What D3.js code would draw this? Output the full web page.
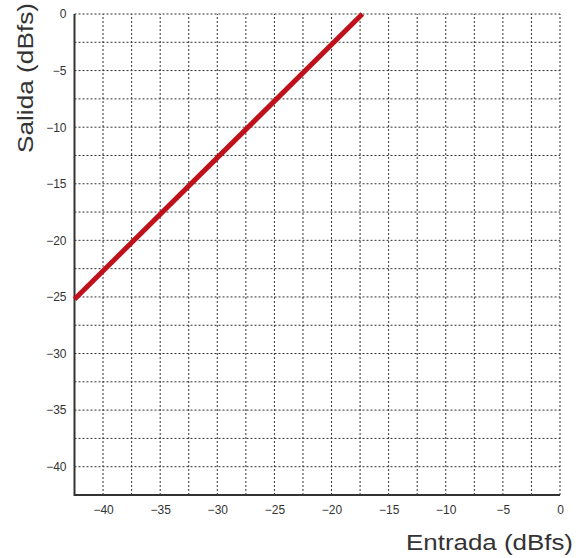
<!DOCTYPE html>
<html>
<head>
<meta charset="utf-8">
<script src="https://cdn.jsdelivr.net/npm/d3@7"></script>
<style>
  html, body { margin: 0; padding: 0; background: #fff; }
  svg { display: block; }
</style>
</head>
<body>
<svg id="chart" width="576" height="558"></svg>
<script>
const xDomain = [-42.5, 0];
const yDomain = [-42.5, 0];
const xTicks = [-40, -35, -30, -25, -20, -15, -10, -5, 0];
const yTicks = [0, -5, -10, -15, -20, -25, -30, -35, -40];
const xGrid = [-40, -37.5, -35, -32.5, -30, -27.5, -25, -22.5, -20, -17.5, -15, -12.5, -10, -7.5, -5, -2.5, 0];
const yGrid = [-40, -37.5, -35, -32.5, -30, -27.5, -25, -22.5, -20, -17.5, -15, -12.5, -10, -7.5, -5, -2.5, 0];
const lineX = [-42.5, -17.3];
const lineY = [-25.2, 0];
const xTitle = "Entrada (dBfs)";
const yTitle = "Salida (dBfs)";

const svg = d3.select("#chart");
const x = d3.scaleLinear().domain(xDomain).range([74.5, 560]);
const y = d3.scaleLinear().domain(yDomain).range([495, 14]);

// grid
const g = svg.append("g");
g.selectAll("line.v").data(xGrid).enter().append("line")
  .attr("x1", d => x(d)).attr("x2", d => x(d))
  .attr("y1", y(yDomain[0])).attr("y2", y(yDomain[1]))
  .attr("stroke", "#333").attr("stroke-width", 1).attr("stroke-dasharray", "2,2");
g.selectAll("line.h").data(yGrid).enter().append("line")
  .attr("y1", d => y(d)).attr("y2", d => y(d))
  .attr("x1", x(xDomain[0])).attr("x2", x(xDomain[1]))
  .attr("stroke", "#333").attr("stroke-width", 1).attr("stroke-dasharray", "2,2");

// axes
const xAxis = d3.axisBottom(x).tickValues(xTicks).tickSize(0).tickPadding(10).tickFormat(d3.format("d"));
const yAxis = d3.axisLeft(y).tickValues(yTicks).tickSize(0).tickPadding(8).tickFormat(d3.format("d"));
const gx = svg.append("g").attr("transform", `translate(0,${y(yDomain[0])})`).call(xAxis);
const gy = svg.append("g").attr("transform", `translate(${x(xDomain[0])},0)`).call(yAxis);
[gx, gy].forEach(a => {
  a.select(".domain").remove();
  a.selectAll("text").attr("font-family", "Liberation Sans, Arial, sans-serif")
    .attr("font-size", 12).attr("fill", "#333");
});

svg.append("line")
  .attr("x1", x(xDomain[0])).attr("x2", x(xDomain[1]))
  .attr("y1", y(yDomain[0])).attr("y2", y(yDomain[0]))
  .attr("stroke", "#333").attr("stroke-width", 2);
svg.append("line")
  .attr("x1", x(xDomain[0])).attr("x2", x(xDomain[0]))
  .attr("y1", y(yDomain[0]) + 1).attr("y2", y(yDomain[1]))
  .attr("stroke", "#333").attr("stroke-width", 2);

// data line
const pts = lineX.map((v, i) => [v, lineY[i]]);
svg.append("path").datum(pts)
  .attr("d", d3.line().x(d => x(d[0])).y(d => y(d[1])))
  .attr("fill", "none").attr("stroke", "#bf111b").attr("stroke-width", 5);

// titles
svg.append("text").text(xTitle)
  .attr("x", 573).attr("y", 550).attr("text-anchor", "end")
  .attr("font-family", "Liberation Sans, Arial, sans-serif").attr("font-size", 22)
  .attr("fill", "#333").attr("textLength", 167).attr("lengthAdjust", "spacingAndGlyphs");
svg.append("text").text(yTitle)
  .attr("transform", "translate(33,78) rotate(-90)").attr("text-anchor", "middle")
  .attr("font-family", "Liberation Sans, Arial, sans-serif").attr("font-size", 22)
  .attr("fill", "#333").attr("textLength", 150).attr("lengthAdjust", "spacingAndGlyphs");
</script>
</body>
</html>
